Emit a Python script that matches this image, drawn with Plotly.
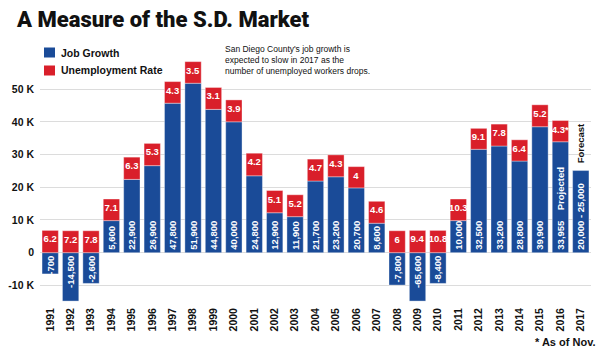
import plotly.graph_objects as go

years = [str(y) for y in range(1991, 2018)]
# drawn bar heights (thousands) as shown in the picture
job_height = [-6.5, -14.8, -9.4, 9.8, 22.4, 26.6, 45.7, 51.8, 43.8, 40.0, 23.5, 12.2, 11.0, 21.9,
              23.2, 19.8, 9.0, -9.9, -14.8, -9.4, 9.8, 31.6, 32.6, 28.0, 38.5, 33.9, 25.1]
job_labels = ["-700", "-14,500", "-2,600", "5,600", "22,900", "26,900", "47,800", "51,900", "44,800",
              "40,000", "24,800", "12,900", "11,900", "21,700", "23,200", "20,700", "8,600", "-7,800",
              "-65,600", "-8,400", "10,000", "32,500", "33,200", "28,800", "39,900", "33,955",
              "20,000 - 25,000"]
rate_height = [6.8, 6.7, 6.7, 6.6, 6.8, 6.8, 6.6, 6.6, 6.7, 6.7, 6.9, 6.8, 6.7, 6.7,
               6.7, 6.5, 6.7, 6.7, 6.8, 6.8, 6.6, 6.4, 6.7, 6.5, 6.7, 6.5, None]
rate_labels = ["6.2", "7.2", "7.8", "7.1", "6.3", "5.3", "4.3", "3.5", "3.1", "3.9", "4.2", "5.1",
               "5.2", "4.7", "4.3", "4", "4.6", "6", "9.4", "10.8", "10.3", "9.1", "7.8", "6.4",
               "5.2", "4.3*", ""]
y_ticks = [-10, 0, 10, 20, 30, 40, 50]
y_tick_text = ["-10 K", "0", "10 K", "20 K", "30 K", "40 K", "50 K"]

BLUE = "#1a4b98"
RED = "#d91f2a"
FONT = "Liberation Sans, Arial, sans-serif"
HEAVY = "Roboto, Liberation Sans, Arial, sans-serif"

fig = go.Figure()
fig.add_trace(go.Bar(
    x=years, y=job_height, name="Job Growth",
    marker=dict(color=BLUE, line=dict(width=0.6, color="rgba(255,255,255,0.6)")),
    text=job_labels, textposition="inside", insidetextanchor="start", textangle=-90,
    textfont=dict(family=FONT, size=9.5, color="white", weight="bold"),
    hoverinfo="skip"))
fig.add_trace(go.Bar(
    x=years, y=rate_height, name="Unemployment Rate",
    marker=dict(color=RED, line=dict(width=0.6, color="rgba(255,255,255,0.6)")),
    text=rate_labels, textposition="inside", insidetextanchor="end", textangle=0,
    textfont=dict(family=FONT, size=9.5, color="white", weight="bold"),
    hoverinfo="skip"))

fig.update_layout(
    width=600, height=350, barmode="relative", bargap=0.2, showlegend=False,
    plot_bgcolor="white", paper_bgcolor="white",
    margin=dict(l=40, r=9, t=60, b=45),
    uniformtext=dict(minsize=9.5, mode="show"),
    title=dict(text="A Measure of the S.D. Market", x=17/600, xanchor="left",
               y=1 - 19/350, yanchor="middle", yref="container", xref="container",
               font=dict(family=HEAVY, size=22, color="#111", weight=900)),
    font=dict(family=FONT, color="#111"),
)
fig.update_xaxes(type="category", range=[-0.5, 26.5], tickangle=-90, showgrid=False, ticks="",
                 showline=False, tickfont=dict(family=FONT, size=10.5, color="#111", weight="bold"))
fig.update_yaxes(range=[-16, 58.9], tickvals=y_ticks, ticktext=y_tick_text, showgrid=True,
                 gridcolor="#dcdcdc", gridwidth=1, zeroline=False, showline=False,
                 tickfont=dict(family=FONT, size=10.5, color="#111", weight="bold"),
                 ticklabelstandoff=5)

# legend drawn manually
fig.add_shape(type="rect", xref="paper", yref="paper", x0=(44 - 40)/551, x1=(55 - 40)/551,
              y0=(350 - 45 - 57.5)/245, y1=(350 - 45 - 47.5)/245, fillcolor=BLUE, line_width=0)
fig.add_shape(type="rect", xref="paper", yref="paper", x0=(44 - 40)/551, x1=(55 - 40)/551,
              y0=(350 - 45 - 75.5)/245, y1=(350 - 45 - 65.5)/245, fillcolor=RED, line_width=0)
fig.add_annotation(xref="paper", yref="paper", x=(59 - 40)/551, y=(350 - 45 - 52.5)/245,
                   xanchor="left", yanchor="middle", showarrow=False, text="<b>Job Growth</b>",
                   font=dict(family=FONT, size=10.5, color="#111"))
fig.add_annotation(xref="paper", yref="paper", x=(59 - 40)/551, y=(350 - 45 - 70.5)/245,
                   xanchor="left", yanchor="middle", showarrow=False, text="<b>Unemployment Rate</b>",
                   font=dict(family=FONT, size=10.5, color="#111"))
fig.add_annotation(xref="paper", yref="paper", x=(223 - 40)/551, y=(350 - 45 - 42)/245,
                   xanchor="left", yanchor="top", showarrow=False, align="left",
                   text="San Diego County's job growth is<br>expected to slow in 2017 as the<br>number of unemployed workers drops.",
                   font=dict(family=FONT, size=8.5, color="#111"))
fig.add_annotation(x=years.index("2016"), y=19.5, textangle=-90, showarrow=False,
                   text="<b>Projected</b>", font=dict(family=FONT, size=9.5, color="white"))
fig.add_annotation(x=years.index("2017"), y=job_height[-1], yanchor="bottom", yshift=5,
                   textangle=-90, showarrow=False,
                   text="<b>Forecast</b>", font=dict(family=FONT, size=9.5, color="#111"))
fig.add_annotation(xref="paper", yref="paper", x=1 + 7/551, y=(350 - 45 - 342)/245,
                   xanchor="right", yanchor="middle", showarrow=False, text="<b>* As of Nov.</b>",
                   font=dict(family=FONT, size=11, color="#111"))

fig.write_html("out.html")
